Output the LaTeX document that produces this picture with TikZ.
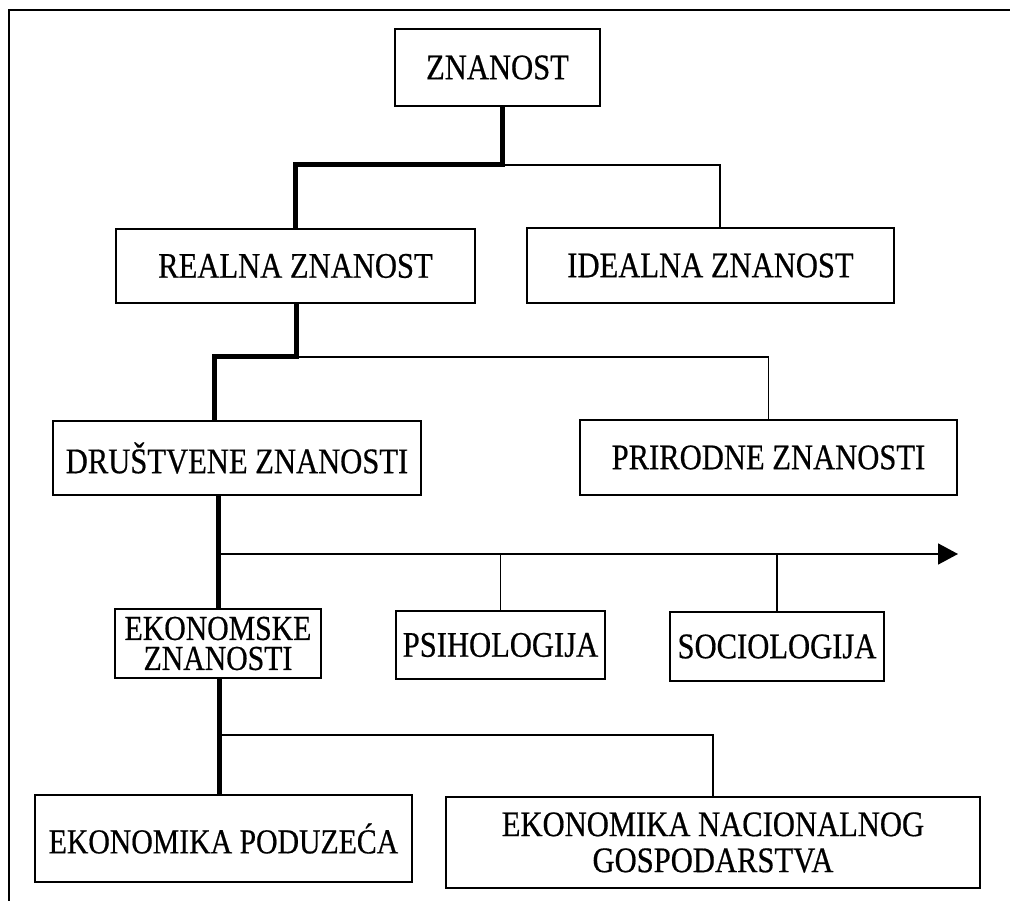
\documentclass[tikz,border=0pt]{standalone}
\usepackage{fontspec}
\setmainfont{Liberation Serif}[FakeStretch=0.85,FakeBold=0.5]
\usetikzlibrary{arrows.meta}
\begin{document}
\begin{tikzpicture}[x=1pt,y=-1pt,
  box/.style={draw,line width=1.8pt,inner sep=0pt,align=center,
    font=\fontsize{36}{40}\selectfont},
  heavy/.style={line width=5pt},
  light/.style={line width=1.7pt},
  frame/.style={line width=2pt}]
\useasboundingbox (0,0) rectangle (1010,901);
\draw[frame] (9,901) -- (9,10) -- (1010,10);
% nodes
\node[box,minimum width=205pt,minimum height=77pt] (zn) at (497.5,67.5) {ZNANOST};
\node[box,minimum width=359pt,minimum height=74pt] (real) at (295.5,266) {REALNA ZNANOST};
\node[box,minimum width=367pt,minimum height=75pt] (ideal) at (710.5,265.5) {IDEALNA ZNANOST};
\node[box,minimum width=368pt,minimum height=74pt] (drus) at (237,458) {DRUŠTVENE ZNANOSTI};
\node[box,minimum width=377pt,minimum height=75pt] (prir) at (768.5,457.5) {PRIRODNE ZNANOSTI};
\node[box,minimum width=206pt,minimum height=69pt,font=\fontsize{35}{30}\selectfont] (ekon) at (218,643.5) {EKONOMSKE\\ZNANOSTI};
\node[box,minimum width=209pt,minimum height=68pt] (psih) at (500.5,645) {PSIHOLOGIJA};
\node[box,minimum width=214pt,minimum height=69pt] (soc) at (777,646.5) {SOCIOLOGIJA};
\node[box,minimum width=377pt,minimum height=87pt,font=\fontsize{35}{40}\selectfont] (pod) at (223.5,838.5) {EKONOMIKA PODUZEĆA};
\node[box,minimum width=534pt,minimum height=91pt,font=\fontsize{36}{36}\selectfont] (nac) at (713,842.5) {EKONOMIKA NACIONALNOG\\GOSPODARSTVA};
% junction coordinates
\coordinate (j1) at (502,165);
\coordinate (j2) at (296,357);
\coordinate (j3) at (218,554);
\coordinate (j4) at (219,735);
\coordinate (aend) at (958,554);
% level 1
\draw[light] (j1) -| ([xshift=9.5pt]ideal.north);
\draw[heavy] ([xshift=4.5pt]zn.south) -- (j1) -| (real.north);
% level 2
\draw[light] (j2) -| (prir.north);
\draw[heavy] (real.south -| j2) -- (j2) -| ([xshift=-23pt]drus.north);
% level 3
\draw[light,-{Triangle[length=20pt,width=21pt]}] (j3) -- (aend);
\draw[light] (j3 -| psih.north) -- (psih.north);
\draw[light] (j3 -| soc.north) -- (soc.north);
\draw[heavy] (drus.south -| ekon.north) -- (ekon.north);
% level 4
\draw[light] (j4) -| (nac.north);
\draw[heavy] (ekon.south -| j4) -- (pod.north -| j4);
\end{tikzpicture}
\end{document}
